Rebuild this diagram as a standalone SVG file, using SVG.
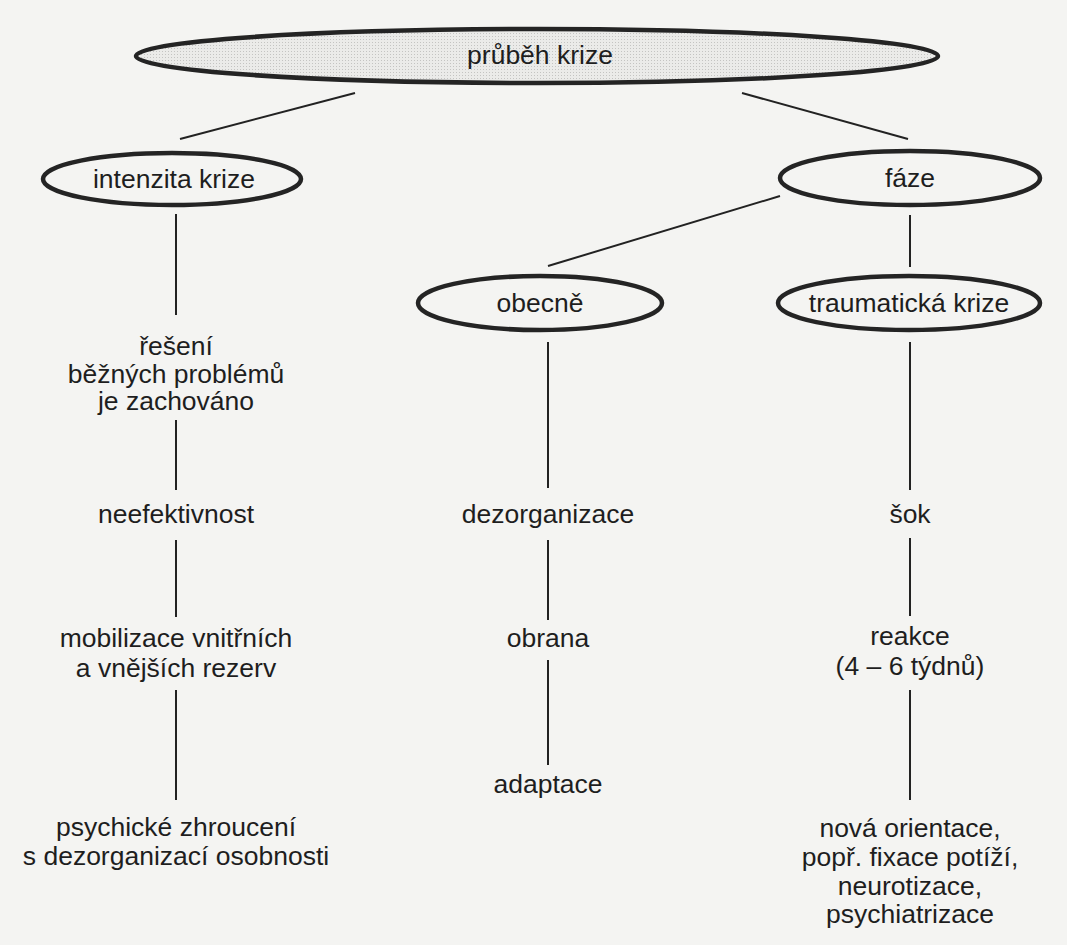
<svg xmlns="http://www.w3.org/2000/svg" width="1067" height="945" viewBox="0 0 1067 945">
<defs>
<pattern id="dots" width="3" height="3" patternUnits="userSpaceOnUse">
<rect width="3" height="3" fill="#ebebe9"/>
<rect width="1" height="1" fill="#c4c4c2"/>
</pattern>
<style>
text{font-family:"Liberation Sans",Arial,sans-serif;font-size:26.5px;fill:#1e1e1e;text-anchor:middle}
.el{fill:none;stroke:#242424;stroke-width:4.5}
.top{fill:url(#dots)}
#connectors line{stroke:#222;stroke-width:2}
</style>
</defs>
<rect width="1067" height="945" fill="#f4f4f2"/>
<g id="connectors">
<line x1="355" y1="93" x2="180" y2="139"/>
<line x1="742" y1="93" x2="908" y2="139"/>
<line x1="780" y1="196" x2="548" y2="266"/>
<line x1="910" y1="215" x2="910" y2="267"/>
<line x1="176" y1="214" x2="176" y2="315"/>
<line x1="176" y1="420" x2="176" y2="490"/>
<line x1="176" y1="540" x2="176" y2="617"/>
<line x1="176" y1="690" x2="176" y2="800"/>
<line x1="548" y1="342" x2="548" y2="488"/>
<line x1="548" y1="540" x2="548" y2="620"/>
<line x1="548" y1="660" x2="548" y2="765"/>
<line x1="910" y1="342" x2="910" y2="490"/>
<line x1="910" y1="538" x2="910" y2="616"/>
<line x1="910" y1="690" x2="910" y2="800"/>
</g>
<g id="n-prubeh"><ellipse class="el top" cx="537" cy="56" rx="401" ry="27"/><text x="540" y="64">průběh krize</text></g>
<g id="n-intenzita"><ellipse class="el" cx="172" cy="179" rx="129" ry="26"/><text x="174" y="188">intenzita krize</text></g>
<g id="n-faze"><ellipse class="el" cx="910" cy="178" rx="130" ry="27"/><text x="910" y="187">fáze</text></g>
<g id="n-obecne"><ellipse class="el" cx="540" cy="303" rx="122" ry="27"/><text x="540" y="312">obecně</text></g>
<g id="n-traumaticka"><ellipse class="el" cx="909" cy="303" rx="131" ry="27"/><text x="909" y="312">traumatická krize</text></g>
<g id="n-reseni"><text x="176" y="355">řešení</text><text x="176" y="383">běžných problémů</text><text x="176" y="410">je zachováno</text></g>
<g id="n-neefektivnost"><text x="176" y="523">neefektivnost</text></g>
<g id="n-mobilizace"><text x="176" y="647">mobilizace vnitřních</text><text x="176" y="677">a vnějších rezerv</text></g>
<g id="n-zhrouceni"><text x="176" y="836">psychické zhroucení</text><text x="176" y="865">s dezorganizací osobnosti</text></g>
<g id="n-dezorganizace"><text x="548" y="523">dezorganizace</text></g>
<g id="n-obrana"><text x="548" y="647">obrana</text></g>
<g id="n-adaptace"><text x="548" y="793">adaptace</text></g>
<g id="n-sok"><text x="910" y="523">šok</text></g>
<g id="n-reakce"><text x="910" y="645">reakce</text><text x="910" y="675">(4 – 6 týdnů)</text></g>
<g id="n-nova"><text x="910" y="837">nová orientace,</text><text x="910" y="866">popř. fixace potíží,</text><text x="910" y="895">neurotizace,</text><text x="910" y="923">psychiatrizace</text></g>
</svg>
